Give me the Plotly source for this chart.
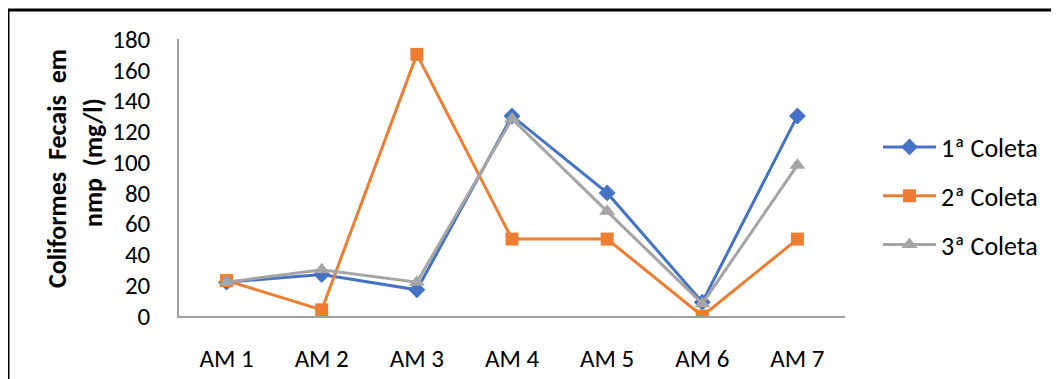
import plotly.graph_objects as go

categories = ["AM 1", "AM 2", "AM 3", "AM 4", "AM 5", "AM 6", "AM 7"]
coleta1 = [22, 27, 17, 130, 80, 9, 130]
coleta2 = [23, 4, 170, 50, 50, 0, 50]
coleta3 = [22, 30, 22, 128, 68, 8, 98]
series_names = ["1ª Coleta", "2ª Coleta", "3ª Coleta"]
y_ticks = [0, 20, 40, 60, 80, 100, 120, 140, 160, 180]

OFF = 8  # page body margin
W, H = 1059, 379
L, R, T, B = 179 - OFF, 845 - OFF, 39 - OFF, 316 - OFF  # plot area pixels (figure coords)

def px_x(p):
    return (p - OFF - L) / (R - L)

def px_y(p):
    return (B - (p - OFF)) / (B - T)

FONT = "Carlito, Liberation Sans, Arial, sans-serif"

fig = go.Figure()
styles = [
    ("#4472C4", "diamond", 13),
    ("#ED7D31", "square", 13),
    ("#A5A5A5", "triangle-up", 14),
]
for i, (name, vals, (col, sym, sz)) in enumerate(zip(series_names, [coleta1, coleta2, coleta3], styles)):
    fig.add_trace(go.Scatter(
        x=categories, y=vals, name=name, mode="lines+markers",
        legendgroup=f"g{i}",
        line=dict(color=col, width=3),
        marker=dict(symbol=sym, size=sz, color=col),
    ))

fig.update_layout(
    width=W, height=H,
    margin=dict(l=L, r=W - R, t=T, b=H - B),
    paper_bgcolor="white", plot_bgcolor="white",
    font=dict(family=FONT, size=25, color="black"),
    showlegend=True,
    legend=dict(x=px_x(878), y=px_y(196), xanchor="left", yanchor="middle",
                font=dict(size=26), tracegroupgap=12, itemwidth=53,
                bgcolor="rgba(0,0,0,0)"),
    xaxis=dict(type="category", showgrid=False, showline=True, linecolor="#A0A0A0",
               linewidth=1.5, ticks="outside", ticklen=19, tickcolor="rgba(0,0,0,0)",
               zeroline=False, range=[-0.5, 6.5]),
    yaxis=dict(range=[0, 180], tickvals=y_ticks, showgrid=False, showline=True,
               linecolor="#A0A0A0", linewidth=1.5, ticks="outside", ticklen=22,
               tickcolor="rgba(0,0,0,0)", zeroline=False),
)

fig.add_annotation(text="<b>Coliformes  Fecais  em</b>", textangle=-90,
                   x=px_x(57), y=px_y(169), xref="paper", yref="paper",
                   xanchor="center", yanchor="middle",
                   showarrow=False, font=dict(size=26, family=FONT))
fig.add_annotation(text="<b>nmp  (mg/l)</b>", textangle=-90,
                   x=px_x(93), y=px_y(163), xref="paper", yref="paper",
                   xanchor="center", yanchor="middle",
                   showarrow=False, font=dict(size=26, family=FONT))

# chart frame (top and left edges visible)
fig.add_shape(type="line", xref="paper", yref="paper",
              x0=px_x(8), x1=px_x(1075), y0=px_y(10), y1=px_y(10),
              line=dict(color="black", width=3))
fig.add_shape(type="line", xref="paper", yref="paper",
              x0=px_x(8), x1=px_x(8), y0=px_y(10), y1=px_y(400),
              line=dict(color="black", width=3))

fig.write_html("out.html")
